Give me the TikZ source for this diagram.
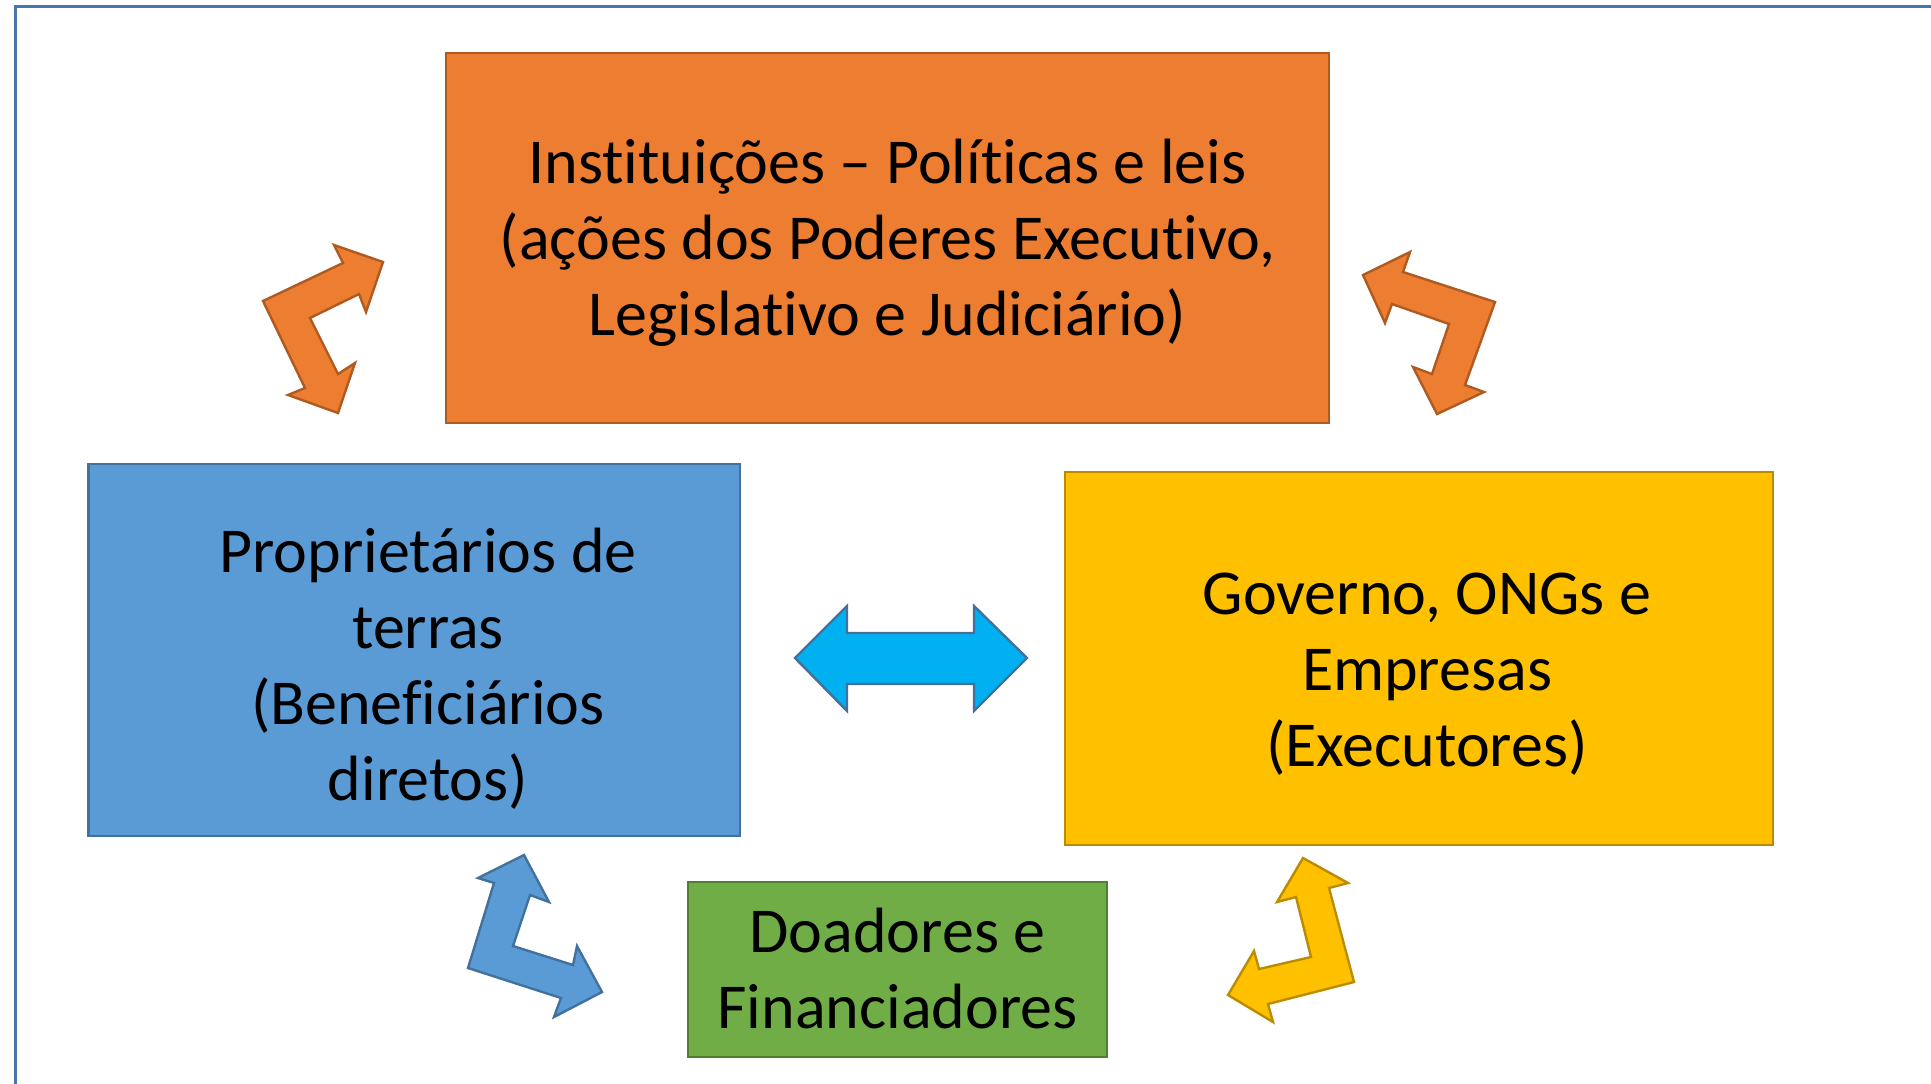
\documentclass[tikz,border=0pt]{standalone}
\usepackage{fontspec}
\setmainfont{Carlito}[Ligatures={TeX,NoCommon}]
\definecolor{instFill}{HTML}{ED7D31}
\definecolor{instLine}{HTML}{AE5A21}
\definecolor{propFill}{HTML}{5B9BD5}
\definecolor{propLine}{HTML}{41719C}
\definecolor{execFill}{HTML}{FFC000}
\definecolor{execLine}{HTML}{BC8C00}
\definecolor{doadFill}{HTML}{70AD47}
\definecolor{doadLine}{HTML}{507E32}
\definecolor{linkFill}{HTML}{00B0F0}
\definecolor{frameLine}{HTML}{4A75AA}

\begin{document}
\begin{tikzpicture}[x=0.5pt,y=-0.5pt]
    \tikzstyle{box}=[rectangle,draw,line width=1.2pt]
    \tikzstyle{txt}=[align=center,anchor=base,inner sep=0pt,font=\fontsize{32pt}{38pt}\selectfont]
    \tikzstyle{bent}=[line width=1.2pt,line join=miter]
    \useasboundingbox (0,0) rectangle (1931,1083);
    \draw [frameLine,line width=1.5pt] (15,1100) -- (15,6) -- (1950,6);
    \node (instBox) at (887.5,238) [box,fill=instFill,draw=instLine,minimum width=441.5pt,minimum height=185pt] {};
    \node (propBox) at (414.25,650) [box,fill=propFill,draw=propLine,minimum width=325.75pt,minimum height=186pt] {};
    \node (execBox) at (1419,658.5) [box,fill=execFill,draw=execLine,minimum width=354pt,minimum height=186.5pt] {};
    \node (doadBox) at (897.5,969.5) [box,fill=doadFill,draw=doadLine,minimum width=209.5pt,minimum height=87.5pt] {};
    \node (inst) at (887.5,335) [txt] {Instituições – Políticas e leis\\(ações dos Poderes Executivo,\\Legislativo e Judiciário)};
    \node (prop) at (428,800) [txt] {Proprietários de\\terras\\(Beneficiários\\diretos)};
    \node (exec) at (1427,766) [txt] {Governo, ONGs e\\Empresas\\(Executores)};
    \node (doad) at (897.5,1028) [txt] {Doadores e\\Financiadores};
    \draw [bent,fill=instFill,draw=instLine] (263,301) -- (343,263) -- (334,245) -- (383,262) -- (366,312) -- (359,294) -- (310,318) -- (338,374) -- (355,363) -- (338,413) -- (288,395) -- (305,388) -- cycle;
    \draw [bent,fill=instFill,draw=instLine] (1363,275) -- (1410,252) -- (1403,272) -- (1495,302) -- (1465,385) -- (1484,392) -- (1437,414) -- (1413,367) -- (1432,374) -- (1449,324) -- (1392,304) -- (1385,323) -- cycle;
    \draw [bent,fill=propFill,draw=propLine] (524,855) -- (549,902) -- (530,895) -- (513,946) -- (573,965) -- (577,946) -- (602,992) -- (554,1017) -- (561,998) -- (468,968) -- (494,883) -- (478,878) -- cycle;
    \draw [bent,fill=execFill,draw=execLine] (1303,858) -- (1348,883) -- (1329,888) -- (1354,982) -- (1268,1004) -- (1273,1022) -- (1228,995) -- (1254,951) -- (1259,969) -- (1311,957) -- (1296,897) -- (1277,902) -- cycle;
    \draw [bent,fill=linkFill,draw=propLine] (795,658) -- (847,606) -- (847,633) -- (974,633) -- (974,606) -- (1027,658) -- (974,711) -- (974,684) -- (847,684) -- (847,711) -- cycle;
\end{tikzpicture}
\end{document}
